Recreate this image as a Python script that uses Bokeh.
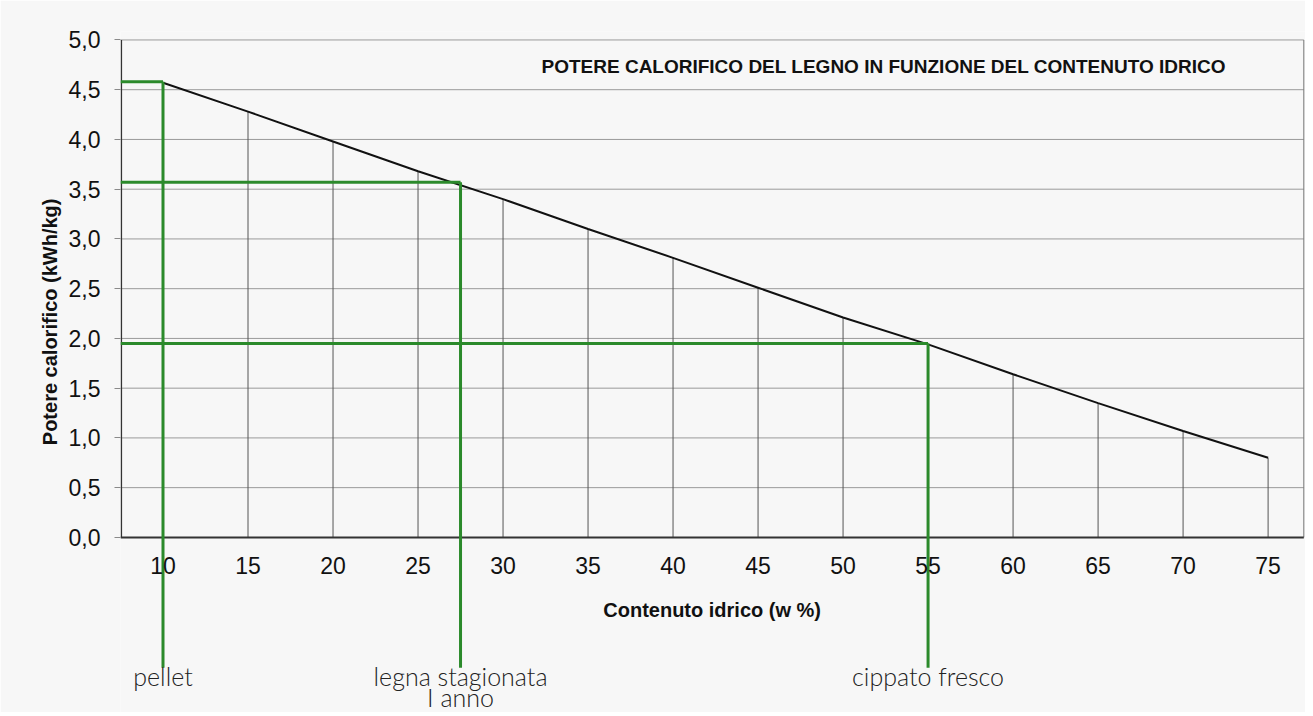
from bokeh.plotting import figure
from bokeh.models import Range1d, FixedTicker, Title
from bokeh.core.properties import value
from bokeh.embed import file_html
from bokeh.resources import INLINE

# ---- data ----
water = [10, 15, 20, 25, 30, 35, 40, 45, 50, 55, 60, 65, 70, 75]
heat = [4.57, 4.28, 3.98, 3.68, 3.40, 3.10, 2.81, 2.51, 2.21, 1.94, 1.64, 1.35, 1.07, 0.80]
x_tick_labels = ["10", "15", "20", "25", "30", "35", "40", "45", "50", "55", "60", "65", "70", "75"]
y_ticks = [0.0, 0.5, 1.0, 1.5, 2.0, 2.5, 3.0, 3.5, 4.0, 4.5, 5.0]
y_tick_labels = ["0,0", "0,5", "1,0", "1,5", "2,0", "2,5", "3,0", "3,5", "4,0", "4,5", "5,0"]
fuels = ["pellet", "legna stagionata", "cippato fresco"]
fuel_water = [10, 27.5, 55]
fuel_heat = [4.58, 3.57, 1.95]
fuel_note = ["I anno"]
fuel_note_water = [27.5]

title = "POTERE CALORIFICO DEL LEGNO IN FUNZIONE DEL CONTENUTO IDRICO"
x_title = "Contenuto idrico (w %)"
y_title = "Potere calorifico (kWh/kg)"

# ---- layout ----
X_LEFT, X_RIGHT = 7.5, 77.1
Y_BOTTOM_GREEN = -1.31

p = figure(width=1305, height=712, output_backend="svg", toolbar_location=None,
           x_range=Range1d(7.5, 77.2), y_range=Range1d(-1.76, 5.085),
           min_border_left=120, min_border_right=0, min_border_top=31, min_border_bottom=0)
p.outline_line_color = None
p.background_fill_color = "#f7f7f7"
p.border_fill_color = "#f7f7f7"
p.xgrid.visible = False
p.ygrid.visible = False
p.xaxis.visible = False

ax = p.yaxis[0]
ax.ticker = FixedTicker(ticks=y_ticks)
ax.major_label_overrides = {t: l for t, l in zip(y_ticks, y_tick_labels)}
ax.axis_line_color = None
ax.major_tick_out = 6
ax.major_tick_in = 0
ax.major_tick_line_color = "#8a8a8a"
ax.minor_tick_line_color = None
ax.major_label_standoff = 14
ax.major_label_text_font = "Liberation Sans"
ax.major_label_text_font_size = "23px"
ax.major_label_text_color = "#111111"

# y-axis title (placed in the left panel, shifted toward the plotted band)
p.add_layout(Title(text=y_title, align="right", offset=167, text_font="Liberation Sans",
                   text_font_size="20px", text_font_style="bold", text_color="#111111"), "left")

FONT = value("Liberation Sans")

# horizontal gridlines
grid_y = [t for t in y_ticks if t > 0]
p.segment(x0=[X_LEFT] * len(grid_y), x1=[X_RIGHT] * len(grid_y), y0=grid_y, y1=grid_y,
          line_color="#9a9a9a", line_width=1)
# vertical lines below the curve
p.segment(x0=water[1:], x1=water[1:], y0=[0] * (len(water) - 1), y1=heat[1:],
          line_color="#555555", line_width=1)
# frame borders
p.segment(x0=[X_LEFT + 0.05], x1=[X_LEFT + 0.05], y0=[0], y1=[5.0], line_color="#333333", line_width=1.5)
p.segment(x0=[X_RIGHT], x1=[X_RIGHT], y0=[0], y1=[5.0], line_color="#777777", line_width=1)
p.segment(x0=[X_LEFT], x1=[X_RIGHT], y0=[0], y1=[0], line_color="#333333", line_width=2)

# curve
p.line(water, heat, line_color="#111111", line_width=2)

# green reference lines
GREEN = "#2b8a2b"
p.segment(x0=[X_LEFT] * 3, x1=fuel_water, y0=fuel_heat, y1=fuel_heat, line_color=GREEN, line_width=3)
p.segment(x0=fuel_water, x1=fuel_water, y0=fuel_heat, y1=[Y_BOTTOM_GREEN] * 3, line_color=GREEN, line_width=3)

# x tick labels
p.text(x=water, y=[0] * len(water), text=x_tick_labels, text_align="center", text_baseline="middle",
       y_offset=28, text_font=FONT, text_font_size="23px", text_color="#111111")

# x-axis title
p.text(x=[(X_LEFT + X_RIGHT) / 2], y=[0], text=[x_title], text_align="center", text_baseline="middle",
       y_offset=73, text_font=FONT, text_font_size="20px", text_font_style="bold", text_color="#111111")

# chart title
p.text(x=[52.4], y=[4.73], text=[title], text_align="center", text_baseline="middle",
       text_font=FONT, text_font_size="19px", text_font_style="bold", text_color="#111111")

# fuel labels
p.text(x=fuel_water, y=[0] * 3, text=fuels, text_align="center", text_baseline="middle",
       y_offset=139, text_font=value("Lato Light"), text_font_size="25px", text_color="#222222")
p.text(x=fuel_note_water, y=[0], text=fuel_note, text_align="center", text_baseline="middle",
       y_offset=160, text_font=value("Lato Light"), text_font_size="25px", text_color="#222222")

open("out.html", "w").write(file_html(p, INLINE))
